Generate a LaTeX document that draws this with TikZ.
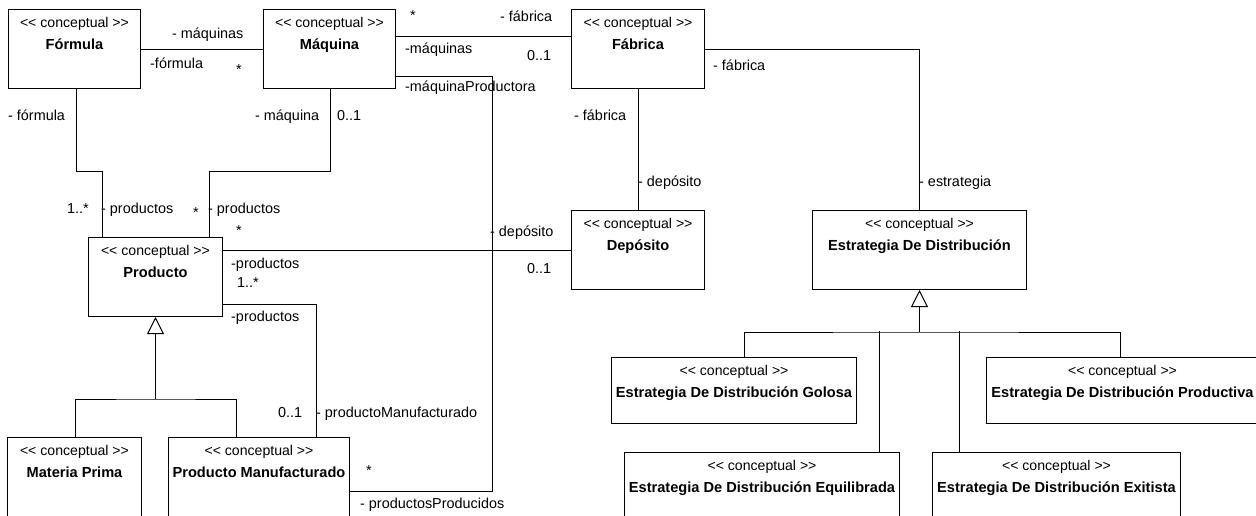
\documentclass[tikz,border=0pt]{standalone}
\usepackage{fontspec}
\setmainfont{Liberation Sans}
\usetikzlibrary{arrows.meta,calc}
\newcommand\umlclass[6]{%
  \node[cls, minimum width=#4pt, minimum height=#5pt] (#1) at (#2,#3) {};
  \node[stereo] at ($(#1.north)+(0,15)$) {<{}< conceptual >{}>};
  \node[cname] at ($(#1.north)+(0,37)$) {#6};
}
\begin{document}
\begin{tikzpicture}[x=1pt,y=-1pt,
  cls/.style={draw, line width=1pt, anchor=north west, inner sep=0pt},
  stereo/.style={font=\fontsize{14.1}{15}\selectfont, inner sep=0pt, text height=10pt, text depth=3pt},
  cname/.style={font=\fontsize{14.6}{16}\selectfont\bfseries, inner sep=0pt, text height=10pt, text depth=3pt},
  lbl/.style={font=\fontsize{14.4}{16}\selectfont, inner sep=0pt, anchor=west, text height=10pt, text depth=3pt},
  mult/.style={font=\fontsize{14.4}{16}\selectfont, inner sep=0pt, text height=10pt, text depth=3pt},
  conn/.style={line width=1pt},
  gen/.style={line width=1pt, -{Triangle[open, length=17pt, width=17pt]}},
]
\fill[white] (0,0) rectangle (1256,515);
\useasboundingbox (0,0) rectangle (1256,515);

\umlclass{formula}{8}{9}{132}{79}{Fórmula}
\umlclass{maquina}{263}{9}{132}{79}{Máquina}
\umlclass{fabrica}{571}{9}{133}{79}{Fábrica}
\umlclass{producto}{88}{237}{134}{79}{Producto}
\umlclass{deposito}{571}{210}{133}{79}{Depósito}
\umlclass{estrategia}{812}{210}{214}{79}{Estrategia De Distribución}
\umlclass{materia}{7}{437}{134}{90}{Materia Prima}
\umlclass{prodman}{168}{437}{181}{90}{Producto Manufacturado}
\umlclass{golosa}{611}{357}{245}{66}{Estrategia De Distribución Golosa}
\umlclass{productiva}{986}{357}{272}{66}{Estrategia De Distribución Productiva}
\umlclass{equilibrada}{624}{452}{275}{75}{Estrategia De Distribución Equilibrada}
\umlclass{exitista}{932}{452}{248}{75}{Estrategia De Distribución Exitista}

% associations
\draw[conn] (formula.east) -- (maquina.west);
\draw[conn] ($(formula.south west)+(68,0)$) |- ($(producto.north west)+(14,-66)$) -- ($(producto.north west)+(14,0)$);
\draw[conn] ($(maquina.south west)+(67,0)$) |- ($(producto.north west)+(121,-66)$) -- ($(producto.north west)+(121,0)$);
\draw[conn] ($(maquina.north east)+(0,27)$) -- ($(fabrica.north west)+(0,27)$);
\draw[conn] ($(maquina.north east)+(0,67)$) -- ++(96,0) |- ($(prodman.north east)+(0,54)$);
\draw[conn] ($(producto.north east)+(0,13)$) -- ($(deposito.north west)+(0,40)$);
\draw[conn] ($(producto.north east)+(0,67)$) -| ($(prodman.north west)+(148,0)$);
\draw[conn] ($(fabrica.south west)+(67,0)$) -- ($(deposito.north west)+(67,0)$);
\draw[conn] ($(fabrica.north east)+(0,40)$) -| (estrategia.north);

% generalizations
\coordinate (pj) at ($(producto.south)+(0,82)$);
\draw[gen] (pj) -- (producto.south);
\draw[conn] ($(materia.north west)+(68,0)$) |- (pj) -| ($(prodman.north west)+(68,0)$);
\coordinate (ej) at ($(estrategia.south)+(0,42)$);
\draw[gen] (ej) -- (estrategia.south);
\draw[conn] ($(golosa.north west)+(133,0)$) |- (ej) -| ($(productiva.north west)+(134,0)$);
\draw[conn] ($(equilibrada.north west)+(255,0)$) -- ++(0,-121);
\draw[conn] ($(exitista.north west)+(27,0)$) -- ++(0,-121);

% labels
\node[lbl] at (172,35) {- máquinas};
\node[lbl] at (150,65) {-fórmula};
\node[mult] at (239,71) {*};
\node[lbl] at (8,117) {- fórmula};
\node[lbl] at (255,117) {- máquina};
\node[lbl] at (337,117) {0..1};
\node[lbl] at (67,210) {1..*};
\node[lbl] at (101,210) {- productos};
\node[mult] at (196,214) {*};
\node[lbl] at (208,210) {- productos};
\node[mult] at (239,232) {*};
\node[lbl] at (231,265) {-productos};
\node[lbl] at (237,284) {1..*};
\node[lbl] at (231,318) {-productos};
\node[lbl] at (490,233) {- depósito};
\node[lbl] at (527,270) {0..1};
\node[mult] at (413,17) {*};
\node[lbl] at (500,18) {- fábrica};
\node[lbl] at (405,50) {-máquinas};
\node[lbl] at (527,57) {0..1};
\node[lbl] at (405,88) {-máquinaProductora};
\node[mult] at (369,472) {*};
\node[lbl] at (360,505) {- productosProducidos};
\node[lbl] at (278,414) {0..1};
\node[lbl] at (316,414) {- productoManufacturado};
\node[lbl] at (713,67) {- fábrica};
\node[lbl] at (574,117) {- fábrica};
\node[lbl] at (638,183) {- depósito};
\node[lbl] at (919,183) {- estrategia};
\end{tikzpicture}
\end{document}
